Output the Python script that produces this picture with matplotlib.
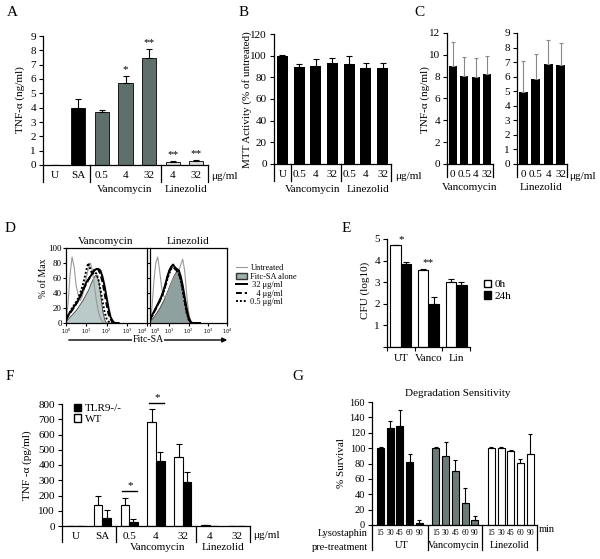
import matplotlib.pyplot as plt
import numpy as np
from matplotlib.lines import Line2D
from matplotlib.patches import Patch, FancyArrowPatch

plt.rcParams['font.family'] = ['Liberation Serif', 'DejaVu Serif']
plt.rcParams['font.size'] = 8
plt.rcParams['axes.linewidth'] = 0.9

# ---------------- data ----------------
# A: TNF-alpha (ng/ml)
a_labels = ['U', 'SA', '0.5', '4', '32', '4', '32']
a_vals = [0, 4.0, 3.7, 5.75, 7.5, 0.2, 0.3]
a_err = [0, 0.6, 0.15, 0.45, 0.6, 0.05, 0.05]
a_stars = ['', '', '', '*', '**', '**', '**']

# B: MTT activity (% of untreated)
b_labels = ['U', '0.5', '4', '32', '0.5', '4', '32']
b_vals = [100, 89.5, 90.5, 93.5, 92.5, 89, 89]
b_err = [1, 3, 6, 4, 7, 4, 4]

# C: TNF-alpha (ng/ml), two panels
c_labels = ['0', '0.5', '4', '32']
c_vanc = [9.0, 8.1, 8.0, 8.25]
c_vanc_err = [2.2, 1.7, 1.7, 1.6]
c_lin = [4.95, 5.85, 6.85, 6.8]
c_lin_err = [2.15, 1.7, 1.7, 1.5]

# D: flow histograms (% of max) on log10 fluorescence
d_logx = [0.0, 0.1, 0.2, 0.3, 0.4, 0.5, 0.6, 0.7, 0.8, 0.9, 1.0, 1.1, 1.2, 1.3,
          1.4, 1.5, 1.6, 1.7, 1.8, 1.9, 2.0, 2.1, 2.2, 2.3, 2.4, 2.5, 2.6]
d_vanc = {
    'untreated': [2, 25, 65, 88, 75, 50, 38, 30, 35, 45, 60, 72, 80, 70, 50, 30, 15, 6, 2, 0, 0, 0, 0, 0, 0, 0, 0],
    'alone': [3, 6, 9, 12, 15, 18, 22, 26, 30, 35, 40, 45, 52, 58, 63, 65, 55, 35, 15, 4, 0, 0, 0, 0, 0, 0, 0],
    '32': [5, 10, 14, 18, 22, 26, 30, 36, 42, 48, 54, 58, 62, 66, 70, 72, 72, 70, 62, 50, 35, 20, 8, 3, 0, 0, 0],
    '4': [4, 9, 13, 17, 21, 25, 30, 35, 41, 47, 52, 57, 62, 67, 71, 73, 71, 65, 55, 40, 25, 12, 5, 1, 0, 0, 0],
    '0.5': [4, 10, 15, 20, 24, 28, 33, 40, 48, 58, 70, 80, 72, 65, 68, 66, 58, 45, 30, 15, 6, 2, 0, 0, 0, 0, 0],
}
d_lin = {
    'untreated': [2, 20, 55, 80, 88, 70, 48, 36, 34, 38, 45, 52, 58, 62, 66, 70, 78, 85, 70, 40, 15, 4, 0, 0, 0, 0, 0],
    'alone': [3, 6, 9, 13, 17, 21, 26, 31, 37, 43, 50, 56, 62, 67, 70, 68, 60, 45, 28, 14, 5, 1, 0, 0, 0, 0, 0],
    '32': [5, 10, 15, 20, 25, 30, 36, 43, 52, 62, 70, 75, 78, 74, 72, 70, 62, 50, 35, 20, 8, 2, 0, 0, 0, 0, 0],
    '4': [4, 9, 14, 19, 24, 29, 35, 42, 50, 60, 68, 74, 76, 72, 70, 66, 58, 45, 30, 16, 6, 1, 0, 0, 0, 0, 0],
    '0.5': [4, 9, 14, 19, 24, 29, 34, 41, 49, 58, 66, 72, 74, 73, 69, 65, 56, 42, 28, 14, 5, 1, 0, 0, 0, 0, 0],
}

# E: CFU (log10)
e_groups = ['UT', 'Vanco', 'Lin']
e_0h = [4.7, 3.55, 3.03]
e_0h_err = [0.02, 0.04, 0.12]
e_24h = [3.85, 2.0, 2.85]
e_24h_err = [0.07, 0.3, 0.17]

# F: TNF-alpha (pg/ml), WT vs TLR9-/-
f_labels = ['U', 'SA', '0.5', '4', '32', '4', '32']
f_wt = [0, 140, 135, 680, 450, 5, 0]
f_wt_err = [0, 55, 50, 85, 90, 3, 0]
f_ko = [0, 55, 25, 425, 290, 0, 0]
f_ko_err = [0, 50, 20, 60, 65, 0, 0]

# G: degradation sensitivity (% survival)
g_groups = ['UT', 'Vancomycin', 'Linezolid']
g_times = ['15', '30', '45', '60', '90']
g_ut = [100, 126, 129, 82, 3]
g_ut_err = [2, 9, 21, 11, 4]
g_vanc = [100, 90, 70, 29, 6]
g_vanc_err = [2, 18, 15, 19, 6]
g_lin = [100, 100, 96, 81, 93]
g_lin_err = [1, 1, 2, 5, 25]

# ---------------- figure ----------------
W, H = 600, 559
fig = plt.figure(figsize=(W / 100, H / 100), dpi=100)

def box(l, t, r, b):
    return [l / W, 1 - b / H, (r - l) / W, (b - t) / H]

def ftext(x, y, s, **kw):
    kw.setdefault('ha', 'center')
    kw.setdefault('va', 'center')
    fig.text(x / W, 1 - y / H, s, **kw)

def style(ax):
    ax.spines[['top', 'right']].set_visible(False)
    ax.tick_params(axis='y', length=3, width=0.8, pad=2)
    ax.tick_params(axis='x', length=0, pad=4)

def seps(ax, edges, drop):
    for e in edges:
        ax.plot([e, e], [0, -drop], transform=ax.get_xaxis_transform(),
                color='k', lw=0.9, clip_on=False)

ek = dict(ecolor='k', elinewidth=0.8, capsize=2, capthick=0.8)
VGRAY = '#5f6f6b'

# ----- A -----
ax = fig.add_axes(box(43, 36, 208, 165))
style(ax)
x = np.arange(len(a_vals))
cols = ['k', 'k'] + [VGRAY] * 3 + ['#d9d9d9'] * 2
ax.bar(x, a_vals, width=0.6, color=cols, edgecolor='k', lw=0.6,
       yerr=[np.zeros(len(a_err)), a_err], error_kw=ek)
for i, s in enumerate(a_stars):
    if s:
        ax.text(i, a_vals[i] + a_err[i] + 0.15, s, ha='center', va='bottom', fontsize=8)
ax.set_xlim(-0.5, 6.5)
ax.set_ylim(0, 9)
ax.set_yticks(range(10))
ax.set_xticks(x, a_labels)
seps(ax, [-0.5, 1.5, 4.5, 6.5], 0.13)
ftext(12, 12, 'A', fontsize=11)
ftext(20, 100, 'TNF-α (ng/ml)', rotation=90)
ftext(125, 190, 'Vancomycin')
ftext(186, 190, 'Linezolid')
ftext(211, 176, 'μg/ml', ha='left')

# ----- B -----
ax = fig.add_axes(box(274, 34, 391, 164))
style(ax)
x = np.arange(len(b_vals))
ax.bar(x, b_vals, width=0.66, color='k', yerr=[np.zeros(len(b_err)), b_err], error_kw=ek)
ax.set_xlim(-0.5, 6.5)
ax.set_ylim(0, 120)
ax.set_yticks(range(0, 121, 20))
ax.set_xticks(x, b_labels)
seps(ax, [-0.5, 0.5, 3.5, 6.5], 0.13)
ftext(244, 12, 'B', fontsize=11)
ftext(247, 100, 'MTT Activity (% of untreated)', rotation=90)
ftext(313, 190, 'Vancomycin')
ftext(368, 190, 'Linezolid')
ftext(395, 176, 'μg/ml', ha='left')

# ----- C -----
ekg = dict(ecolor='#888888', elinewidth=0.8, capsize=1.5, capthick=0.8)
for l, r, vals, err, ymax, step, name, cx in [
        (447, 493, c_vanc, c_vanc_err, 12, 2, 'Vancomycin', 470),
        (517, 567, c_lin, c_lin_err, 9, 1, 'Linezolid', 541)]:
    ax = fig.add_axes(box(l, 33, r, 164))
    style(ax)
    x = np.arange(4)
    ax.bar(x, vals, width=0.72, color='k', yerr=[np.zeros(4), err], error_kw=ekg)
    ax.set_xlim(-0.5, 3.5)
    ax.set_ylim(0, ymax)
    ax.set_yticks(range(0, ymax + 1, step))
    ax.set_xticks(x, c_labels)
    seps(ax, [-0.5, 3.5], 0.1)
    ftext(cx, 188, name)
ftext(419, 12, 'C', fontsize=11)
ftext(425, 100, 'TNF-α (ng/ml)', rotation=90)
ftext(569, 176, 'μg/ml', ha='left')

# ----- D -----
styles = {
    'untreated': dict(color='#999999', lw=0.8),
    '32': dict(color='k', lw=1.4, ls='-'),
    '4': dict(color='k', lw=1.4, ls=(0, (3, 1.5))),
    '0.5': dict(color='k', lw=1.4, ls=(0, (1, 1))),
}
for l, r, curves, fill, name, cx in [(66, 147, d_vanc, '#b9cac8', 'Vancomycin', 106),
                                     (150, 227, d_lin, '#8fa19e', 'Linezolid', 188)]:
    ax = fig.add_axes(box(l, 248, r, 323))
    ax.fill_between(d_logx, curves['alone'], color=fill, ec='#444444', lw=0.6)
    for k in ['untreated', '0.5', '4', '32']:
        ax.plot(d_logx, curves[k], **styles[k])
    ax.set_xlim(0, 4)
    ax.set_ylim(0, 100)
    ax.set_xticks(range(5), ['$10^%d$' % i for i in range(5)])
    ax.set_yticks(range(0, 101, 20))
    ax.tick_params(axis='x', labelsize=3.5, length=2, pad=0.5)
    ax.tick_params(axis='y', labelsize=6.5, length=2, pad=1)
    xl = ax.get_xticklabels()
    if name == 'Linezolid':
        ax.set_yticklabels([])
        xl[0].set_ha('left')
    else:
        xl[-1].set_ha('right')
    ftext(cx, 242, name, fontsize=8)
ftext(10, 228, 'D', fontsize=11)
ftext(44, 278, '% of Max', rotation=90, fontsize=7)
fig.add_artist(FancyArrowPatch((66 / W, 1 - 340 / H), (230 / W, 1 - 340 / H),
                               transform=fig.transFigure, arrowstyle='-|>',
                               mutation_scale=7, lw=1, color='k'))
ftext(148, 340, 'Fitc-SA', fontsize=7, bbox=dict(fc='w', ec='none', pad=0.3))
handles = [Line2D([], [], **styles['untreated']),
           Patch(fc='#9fb0ae', ec='#333333', lw=1),
           Line2D([], [], **styles['32']),
           Line2D([], [], **styles['4']),
           Line2D([], [], **styles['0.5'])]
fig.legend(handles, ['Untreated', 'Fitc-SA alone', ' 32 μg/ml', '   4 μg/ml', '0.5 μg/ml'],
           loc='upper left', bbox_to_anchor=(232 / W, 1 - 260 / H), frameon=False,
           fontsize=6, handlelength=1.3, handleheight=0.8, handletextpad=0.4,
           labelspacing=0.05, borderpad=0)

# ----- E -----
ax = fig.add_axes(box(387, 239, 470, 347))
style(ax)
gc = np.arange(3) + 0.5
ax.bar(gc - 0.19, e_0h, width=0.37, color='w', edgecolor='k', lw=0.8,
       yerr=[np.zeros(3), e_0h_err], error_kw=ek)
ax.bar(gc + 0.19, e_24h, width=0.37, color='k', edgecolor='k', lw=0.8,
       yerr=[np.zeros(3), e_24h_err], error_kw=ek)
ax.text(0.5, 4.78, '*', ha='center', va='bottom', fontsize=8)
ax.text(1.5, 3.72, '**', ha='center', va='bottom', fontsize=8)
ax.set_xlim(0, 3)
ax.set_ylim(0, 5)
ax.set_yticks(range(6), [''] + [str(i) for i in range(1, 6)])
ax.set_xticks([0, 1, 2, 3], [])
ax.set_xticks(gc, e_groups, minor=True)
ax.tick_params(axis='x', which='major', length=3, width=0.8)
ax.tick_params(axis='x', which='minor', length=0, pad=5)
ax.legend([Patch(fc='w', ec='k'), Patch(fc='k', ec='k')], ['0h', '24h'],
          loc='upper left', bbox_to_anchor=(478 / W, 1 - 274 / H),
          bbox_transform=fig.transFigure, frameon=False, fontsize=8,
          handlelength=0.7, handleheight=0.7, handletextpad=0.3,
          labelspacing=0.15, borderpad=0)
ftext(346, 228, 'E', fontsize=11)
ftext(365, 290, 'CFU (log10)', rotation=90)

# ----- F -----
ax = fig.add_axes(box(62, 404, 250, 526))
style(ax)
x = np.arange(len(f_wt))
ax.bar(x - 0.16, f_wt, width=0.32, color='w', edgecolor='k', lw=0.8,
       yerr=[np.zeros(len(x)), f_wt_err], error_kw=ek)
ax.bar(x + 0.16, f_ko, width=0.32, color='k', edgecolor='k', lw=0.8,
       yerr=[np.zeros(len(x)), f_ko_err], error_kw=ek)
ax.plot([1.75, 2.3], [232, 232], color='k', lw=1)
ax.text(2.03, 238, '*', ha='center', va='bottom', fontsize=8)
ax.plot([2.75, 3.3], [808, 808], color='k', lw=1, clip_on=False)
ax.text(3.03, 814, '*', ha='center', va='bottom', fontsize=8)
ax.set_xlim(-0.5, 6.5)
ax.set_ylim(0, 800)
ax.set_yticks(range(0, 801, 100))
ax.set_xticks(x, f_labels)
seps(ax, [-0.5, 1.5, 4.5, 6.5], 0.13)
ax.legend([Patch(fc='k', ec='k'), Patch(fc='w', ec='k')], ['TLR9-/-', 'WT'],
          loc='upper left', bbox_to_anchor=(68 / W, 1 - 398 / H),
          bbox_transform=fig.transFigure, frameon=False, fontsize=8,
          handlelength=0.7, handleheight=0.7, handletextpad=0.3,
          labelspacing=0.1, borderpad=0)
ftext(10, 377, 'F', fontsize=11)
ftext(27, 465, 'TNF -α (pg/ml)', rotation=90)
ftext(158, 547, 'Vancomycin')
ftext(223, 547, 'Linezolid')
ftext(253, 535, 'μg/ml', ha='left')

# ----- G -----
ax = fig.add_axes(box(372, 402, 537, 525))
style(ax)
gcol = ['k', '#6b7b78', 'w']
allpos, alllab = [], []
for g, (vals, err) in enumerate([(g_ut, g_ut_err), (g_vanc, g_vanc_err), (g_lin, g_lin_err)]):
    pos = g * 5.7 + np.arange(5)
    ax.bar(pos, vals, width=0.72, color=gcol[g], edgecolor='k', lw=0.8,
           yerr=[np.zeros(5), err], error_kw=dict(ecolor='k', elinewidth=0.8,
                                                  capsize=1.5, capthick=0.8))
    allpos += list(pos)
    alllab += g_times
ax.set_xlim(-0.88, 16.1)
ax.set_ylim(0, 160)
ax.set_yticks(range(0, 161, 20))
ax.set_xticks(allpos, alllab)
ax.tick_params(axis='x', labelsize=5.5, pad=3)
ax.tick_params(axis='y', labelsize=7.5)
seps(ax, [-0.88, 4.9, 10.46, 16.1], 0.2)
ftext(298, 377, 'G', fontsize=11)
ftext(458, 394, 'Degradation Sensitivity')
ftext(342, 463, '% Survival', rotation=90)
ftext(368, 534, 'Lysostaphin', ha='right', fontsize=7.5)
ftext(368, 547, 'pre-treatment', ha='right', fontsize=7.5)
ftext(402, 546, 'UT', fontsize=7.5)
ftext(454, 546, 'Vancomycin', fontsize=7.5)
ftext(510, 546, 'Linezolid', fontsize=7.5)
ftext(539, 530, 'min', ha='left', fontsize=7.5)

fig.savefig('out.png', dpi=100)
